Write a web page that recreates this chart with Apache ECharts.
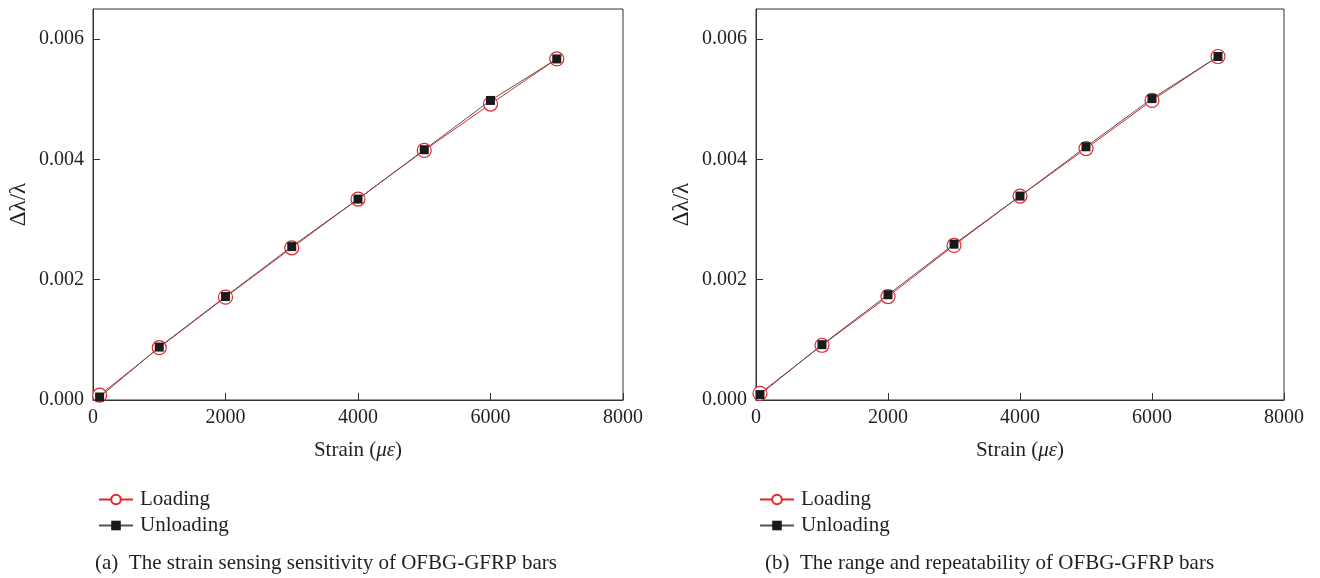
<!DOCTYPE html>
<html>
<head>
<meta charset="utf-8">
<script src="https://cdn.jsdelivr.net/npm/echarts@6/dist/echarts.min.js"></script>
<style>
  html, body { margin: 0; padding: 0; background: #fff; }
  #main { width: 1320px; height: 578px; }
</style>
</head>
<body>
<div id="main"></div>
<script>
var strainA = [100, 1000, 2000, 3000, 4000, 5000, 6000, 7000];
var loadingA = [0.00008, 0.00087, 0.00171, 0.00253, 0.00334, 0.00415, 0.00492, 0.00567];
var unloadingA = [0.00005, 0.00088, 0.00172, 0.00255, 0.00334, 0.00416, 0.00498, 0.00567];

var strainB = [60, 1000, 2000, 3000, 4000, 5000, 6000, 7000];
var loadingB = [0.00011, 0.00091, 0.00172, 0.00257, 0.00339, 0.00418, 0.00498, 0.00571];
var unloadingB = [0.00009, 0.00092, 0.00175, 0.00259, 0.00339, 0.00421, 0.00501, 0.00571];

var captions = ['(a)  The strain sensing sensitivity of OFBG-GFRP bars',
                '(b)  The range and repeatability of OFBG-GFRP bars'];

var FONT = '"Liberation Serif", "DejaVu Serif", serif';
var INK = '#231f20';

function pairs(xs, ys) {
    return xs.map(function (x, i) { return [x, ys[i]]; });
}

function xAxisFor(idx) {
    return {
        type: 'value', gridIndex: idx, min: 0, max: 8000, interval: 2000,
        name: 'Strain ({i|με})', nameLocation: 'middle', nameGap: 40,
        nameTextStyle: {
            color: INK, fontFamily: FONT, fontSize: 21,
            rich: { i: { fontStyle: 'italic', fontFamily: FONT, fontSize: 21, color: INK } }
        },
        axisLine: { lineStyle: { color: '#333', width: 1 } },
        axisTick: { inside: true, length: 7, lineStyle: { color: '#333' } },
        axisLabel: {
            color: INK, fontFamily: FONT, fontSize: 20, margin: 8,
            formatter: function (v) { return String(v); }
        },
        splitLine: { show: false }
    };
}

function yAxisFor(idx) {
    return {
        type: 'value', gridIndex: idx, min: 0, max: 0.0065, interval: 0.002,
        name: 'Δλ/λ', nameLocation: 'middle', nameGap: 63, nameRotate: 90,
        nameTextStyle: { color: INK, fontFamily: FONT, fontSize: 23 },
        axisLine: { lineStyle: { color: '#333', width: 1 } },
        axisTick: { inside: true, length: 7, lineStyle: { color: '#333' } },
        axisLabel: {
            color: INK, fontFamily: FONT, fontSize: 20, margin: 9, showMaxLabel: false,
            formatter: function (v) { return v.toFixed(3); }
        },
        splitLine: { show: false }
    };
}

function loadSeries(idx, data) {
    return {
        name: 'Loading', type: 'line', xAxisIndex: idx, yAxisIndex: idx,
        data: data, symbol: 'circle', symbolSize: 14, z: 2,
        lineStyle: { color: '#e3262b', width: 1 },
        itemStyle: { color: '#fff', borderColor: '#e3262b', borderWidth: 1.2 }
    };
}

function unloadSeries(idx, data) {
    return {
        name: 'Unloading', type: 'line', xAxisIndex: idx, yAxisIndex: idx,
        data: data, symbol: 'rect', symbolSize: 9, z: 3,
        lineStyle: { color: '#555', width: 1 },
        itemStyle: { color: '#1a1a1a', borderWidth: 0 }
    };
}

function legendAt(left) {
    return {
        data: ['Loading', 'Unloading'], orient: 'vertical',
        left: left, top: 484, itemWidth: 34, itemHeight: 12, itemGap: 5,
        textStyle: { color: INK, fontFamily: FONT, fontSize: 21, padding: [0, 0, 0, 2] }
    };
}

var myChart = echarts.init(document.getElementById('main'));
var option = {
    backgroundColor: '#fff',
    animation: false,
    grid: [
        { left: 93, top: 9, width: 530, height: 391, show: true, borderColor: '#333', borderWidth: 1 },
        { left: 756, top: 9, width: 528, height: 391, show: true, borderColor: '#333', borderWidth: 1 }
    ],
    xAxis: [xAxisFor(0), xAxisFor(1)],
    yAxis: [yAxisFor(0), yAxisFor(1)],
    legend: [legendAt(93), legendAt(754)],
    graphic: [
        { type: 'text', left: 95, top: 553, style: { text: captions[0], fill: INK, font: '21px ' + FONT } },
        { type: 'text', left: 765, top: 553, style: { text: captions[1], fill: INK, font: '21px ' + FONT } }
    ],
    series: [
        loadSeries(0, pairs(strainA, loadingA)),
        unloadSeries(0, pairs(strainA, unloadingA)),
        loadSeries(1, pairs(strainB, loadingB)),
        unloadSeries(1, pairs(strainB, unloadingB))
    ]
};
myChart.setOption(option);
</script>
</body>
</html>
